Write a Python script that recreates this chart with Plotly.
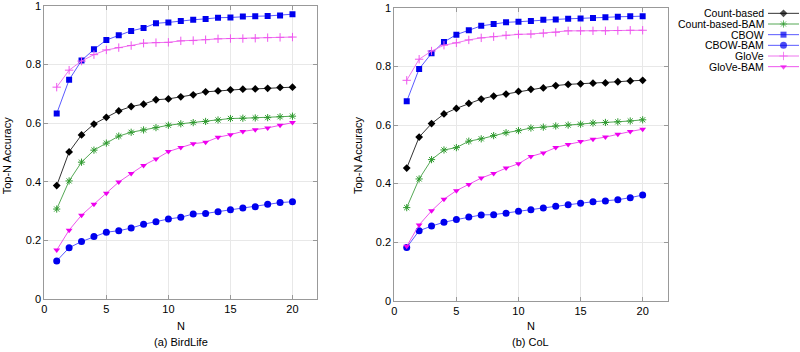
import plotly.graph_objects as go

N = list(range(1, 21))

series_names = ["Count-based", "Count-based-BAM", "CBOW", "CBOW-BAM", "GloVe", "GloVe-BAM"]

# (a) BirdLife
bird_count = [0.387, 0.502, 0.560, 0.597, 0.620, 0.642, 0.657, 0.665, 0.680, 0.683,
              0.690, 0.697, 0.707, 0.710, 0.714, 0.716, 0.717, 0.719, 0.722, 0.723]
bird_count_bam = [0.307, 0.403, 0.467, 0.508, 0.532, 0.556, 0.569, 0.577, 0.585, 0.593,
                  0.598, 0.602, 0.606, 0.611, 0.616, 0.617, 0.618, 0.619, 0.622, 0.624]
bird_cbow = [0.633, 0.748, 0.814, 0.852, 0.884, 0.900, 0.915, 0.925, 0.941, 0.944,
             0.949, 0.953, 0.956, 0.960, 0.961, 0.964, 0.965, 0.966, 0.968, 0.972]
bird_cbow_bam = [0.130, 0.175, 0.196, 0.213, 0.228, 0.233, 0.242, 0.255, 0.264, 0.273,
                 0.279, 0.290, 0.292, 0.298, 0.305, 0.311, 0.315, 0.323, 0.329, 0.332]
bird_glove = [0.723, 0.781, 0.812, 0.834, 0.850, 0.858, 0.865, 0.873, 0.875, 0.876,
              0.881, 0.882, 0.885, 0.888, 0.889, 0.889, 0.890, 0.892, 0.893, 0.894]
bird_glove_bam = [0.167, 0.235, 0.286, 0.323, 0.361, 0.399, 0.428, 0.456, 0.478, 0.503,
                  0.517, 0.530, 0.535, 0.552, 0.561, 0.572, 0.578, 0.584, 0.593, 0.602]

# (b) CoL
col_count = [0.453, 0.559, 0.605, 0.638, 0.657, 0.674, 0.689, 0.699, 0.706, 0.715,
             0.722, 0.727, 0.735, 0.739, 0.741, 0.743, 0.744, 0.748, 0.751, 0.753]
col_count_bam = [0.318, 0.416, 0.482, 0.515, 0.523, 0.545, 0.553, 0.564, 0.574, 0.581,
                 0.590, 0.593, 0.597, 0.600, 0.603, 0.607, 0.609, 0.611, 0.614, 0.618]
col_cbow = [0.681, 0.792, 0.845, 0.884, 0.909, 0.924, 0.939, 0.945, 0.951, 0.953,
            0.956, 0.960, 0.961, 0.963, 0.964, 0.966, 0.968, 0.970, 0.972, 0.972]
col_cbow_bam = [0.182, 0.239, 0.255, 0.268, 0.277, 0.286, 0.293, 0.294, 0.299, 0.306,
                0.311, 0.317, 0.323, 0.328, 0.333, 0.338, 0.341, 0.345, 0.352, 0.361]
col_glove = [0.753, 0.825, 0.853, 0.873, 0.881, 0.891, 0.898, 0.902, 0.907, 0.910,
             0.911, 0.914, 0.917, 0.922, 0.922, 0.922, 0.922, 0.923, 0.924, 0.924]
col_glove_bam = [0.186, 0.259, 0.307, 0.347, 0.376, 0.397, 0.419, 0.435, 0.453, 0.468,
                 0.493, 0.505, 0.523, 0.534, 0.544, 0.552, 0.559, 0.569, 0.578, 0.586]

x_ticks = [0, 5, 10, 15, 20]
y_ticks = [0, 0.2, 0.4, 0.6, 0.8, 1]
subplot_titles = ["(a) BirdLife", "(b) CoL"]

styles = [
    dict(line_color="#333333", marker_color="#000000", symbol="diamond", size=6, lw=0),
    dict(line_color="#55a855", marker_color="#2e9a2e", symbol="asterisk-open", size=6, lw=1),
    dict(line_color="#5a5aff", marker_color="#0000ee", symbol="square", size=6, lw=0),
    dict(line_color="#5a5aff", marker_color="#0000ee", symbol="circle", size=7, lw=0),
    dict(line_color="#ee77ee", marker_color="#ee55ee", symbol="cross-thin-open", size=6, lw=1),
    dict(line_color="#ee55ee", marker_color="#ee00ee", symbol="triangle-down", size=6, lw=0),
]

bird = [bird_count, bird_count_bam, bird_cbow, bird_cbow_bam, bird_glove, bird_glove_bam]
col = [col_count, col_count_bam, col_cbow, col_cbow_bam, col_glove, col_glove_bam]

FONT = "Liberation Sans, Arial, sans-serif"
fig = go.Figure()

def marker(st, size=None):
    return dict(symbol=st["symbol"], size=st["size"] if size is None else size,
                color=st["marker_color"], line=dict(width=st["lw"], color=st["marker_color"]))

def add_series(data, xa, ya):
    for name, vals, st in zip(series_names, data, styles):
        fig.add_trace(go.Scatter(x=N, y=vals, mode="lines+markers", name=name,
                                 xaxis=xa, yaxis=ya, showlegend=False,
                                 line=dict(color=st["line_color"], width=1),
                                 marker=marker(st)))

add_series(bird, "x", "y")
add_series(col, "x2", "y2")

# gnuplot-style key: label right-aligned, sample to its right
for i, (name, st) in enumerate(zip(series_names, styles)):
    fig.add_trace(go.Scatter(x=[0, 0.5, 1], y=[i, i, i], mode="lines+markers",
                             xaxis="x3", yaxis="y3", showlegend=False,
                             line=dict(color=st["line_color"], width=1),
                             marker=marker(st, [0, st["size"], 0])))
    fig.add_annotation(x=0, y=i, xref="x3", yref="y3", text=name, showarrow=False,
                       xanchor="right", yanchor="middle", xshift=-3, borderpad=0,
                       font=dict(family=FONT, size=10.5, color="#000"))

def ax(domain, is_x):
    d = dict(domain=domain, showline=True, linecolor="#999999", linewidth=1, mirror="allticks",
             ticks="inside", ticklen=4, tickcolor="#999999", showgrid=True, automargin=False,
             gridcolor="#e8e8e8", gridwidth=1, zeroline=False, ticklabeloverflow="allow",
             tickfont=dict(family=FONT, size=11, color="#000"))
    if is_x:
        d.update(range=[0, 22], tickvals=x_ticks)
    else:
        d.update(range=[0, 1], tickvals=y_ticks)
    return d

fig.update_layout(
    width=800, height=352, margin=dict(l=0, r=0, t=0, b=0, pad=0, autoexpand=False),
    paper_bgcolor="white", plot_bgcolor="white", showlegend=False,
    xaxis=dict(ax([44.3/800, 317.3/800], True), anchor="y"),
    yaxis=dict(ax([53/352, 346/352], False), anchor="x"),
    xaxis2=dict(ax([394.3/800, 667.5/800], True), anchor="y2"),
    yaxis2=dict(ax([51.3/352, 344/352], False), anchor="x2"),
    xaxis3=dict(domain=[768/800, 799/800], range=[0, 1], visible=False, anchor="y3"),
    yaxis3=dict(domain=[(352-72)/352, (352-8)/352], range=[5.5, -0.5], visible=False, anchor="x3"),
    font=dict(family=FONT, size=11, color="#000"),
)

for ya_px_title_x, cap, xc in [(7.3, subplot_titles[0], (44.3+317.3)/2),
                               (358, subplot_titles[1], (394.3+667.5)/2)]:
    fig.add_annotation(x=xc/800, y=1-325.7/352, xref="paper", yref="paper", text="N",
                       showarrow=False, xanchor="center", yanchor="middle", borderpad=0,
                       font=dict(family=FONT, size=11))
    fig.add_annotation(x=xc/800, y=1-342/352, xref="paper", yref="paper", text=cap,
                       showarrow=False, xanchor="center", yanchor="middle", borderpad=0,
                       font=dict(family=FONT, size=11))
    fig.add_annotation(x=ya_px_title_x/800, y=1-155/352, xref="paper", yref="paper",
                       text="Top-N Accuracy", textangle=-90, showarrow=False, borderpad=0,
                       xanchor="center", yanchor="middle", font=dict(family=FONT, size=11))

fig.write_html("out.html", config={"displayModeBar": False},
               post_script="document.body.style.margin='0';document.body.style.overflow='hidden';")
